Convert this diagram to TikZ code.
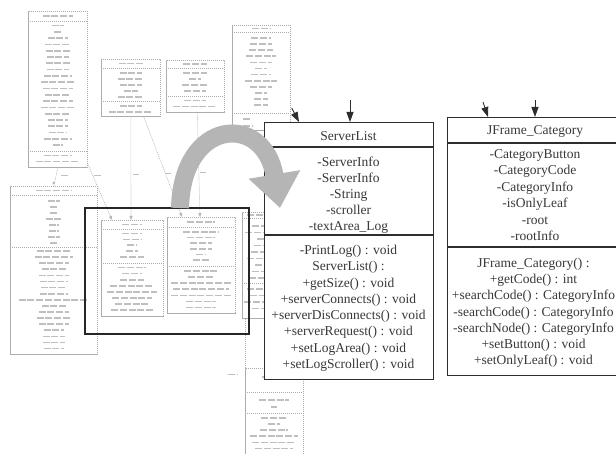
\documentclass[tikz,border=0pt]{standalone}
\usepackage{fontspec}
\setmainfont{Liberation Serif}
\usetikzlibrary{arrows.meta,calc}
\tikzset{
 smallbox/.style={draw=gray!65, dash pattern=on 1.2pt off 0.8pt, line width=0.7pt, fill=white, inner sep=0pt, anchor=north west},
 sline/.style={draw=gray!65, dash pattern=on 1.2pt off 0.8pt, line width=0.7pt},
 fake/.style={draw=gray!50, line width=1.7pt, dash pattern=on 7pt off 1.8pt},
 conn/.style={draw=gray!60, dash pattern=on 1pt off 1pt, line width=0.6pt},
 smallarrow/.style={conn, -{Triangle[width=3pt,length=4pt]}},
 bigbox/.style={draw=gray!35!black, line width=1.1pt, fill=white, inner sep=0pt, anchor=north west},
 bline/.style={draw=gray!35!black, line width=1.1pt},
 hlframe/.style={draw=gray!30!black, line width=2.4pt, inner sep=0pt, anchor=north west},
 stub/.style={draw=gray!35!black, line width=0.9pt, -{Triangle[width=7pt,length=10pt]}},
 arcarrow/.style={draw=gray!58, line width=18pt, -{Triangle[width=50pt,length=34pt]}},
 umltext/.style={anchor=base, font=\fontsize{13.5}{16}\selectfont, text=black!78, inner sep=0pt}
}
\newcommand\fklines[4]{\foreach \w [count=\i] in {#4} {\draw[fake] ({#1-\w/2},{#2+(\i-1)*#3}) -- ++(\w,0);}}
\begin{document}
\begin{tikzpicture}[x=1pt,y=-1pt]
\useasboundingbox (0,0) rectangle (616,454);
\clip (0,0) rectangle (616,454);

% ---- background class boxes ----
% Box A
\node[smallbox, minimum width=59pt, minimum height=156pt] (boxA) at (28,11) {};
\draw[sline] (28,21) -- (87,21) (28,151) -- (87,151);
\fklines{57.5}{16}{0}{30}
\fklines{57.5}{25.5}{6.3}{12,8,20,26,24,22,24,22,28,34,30,26,30,34,26,20,20,18,28,10}
\fklines{57.5}{155.5}{6}{28,44}
% Box B
\node[smallbox, minimum width=87pt, minimum height=168pt] (boxB) at (10,186) {};
\draw[sline] (10,195) -- (97,195) (10,247) -- (97,247);
\fklines{53.5}{190.5}{0}{36}
\fklines{53.5}{201}{6}{12,8,8,16,10,10,12,8}
\fklines{53.5}{251}{6.1}{34,38,30,24,30,28,26,28,70,24,30,34,30,20,22,22,20}
% Box C
\node[smallbox, minimum width=59pt, minimum height=57pt] (boxC) at (101,59) {};
\draw[sline] (101,68) -- (160,68) (101,101) -- (160,101);
\fklines{130.5}{63.5}{0}{24}
\fklines{130.5}{73}{6}{22,26,22,14,26}
\fklines{130.5}{106}{6}{22,44}
% Box D
\node[smallbox, minimum width=58pt, minimum height=52pt] (boxD) at (166,60) {};
\draw[sline] (166,68.5) -- (224,68.5) (166,96) -- (224,96);
\fklines{195}{64}{0}{24}
\fklines{195}{73}{6}{24,12,26,22}
\fklines{195}{100.5}{6}{22,44}
% Box E
\node[smallbox, minimum width=58pt, minimum height=105pt] (boxE) at (232,25) {};
\draw[sline] (232,32) -- (290,32) (232,113) -- (290,113);
\fklines{261}{28.5}{0}{18}
\fklines{261}{38}{6.1}{20,22,24,30,22,12,20,32,22,12,14,14}
\draw[fake] (243,119) -- (250,119) (234,126) -- (252,126);
% Box F
\node[smallbox, minimum width=70pt, minimum height=106pt] (boxF) at (242,212) {};
\draw[sline] (242,218) -- (312,218) (242,283) -- (312,283);
\fklines{277}{215}{0}{60}
\fklines{277}{226}{6.5}{50,64,40,46,52,60,44,50,56}
\fklines{277}{289}{6.5}{60,54,66,50}
% Box G
\node[smallbox, minimum width=62pt, minimum height=96pt] (boxG) at (101,220) {};
\draw[sline] (101,229) -- (163,229) (101,263) -- (163,263);
\fklines{132}{224.5}{0}{20}
\fklines{132}{233.5}{5.9}{20,18,10,12,24}
\fklines{132}{267.5}{6.1}{28,20,24,44,50,40,34,42}
% Box H
\node[smallbox, minimum width=68pt, minimum height=96pt] (boxH) at (167,217) {};
\draw[sline] (167,227) -- (235,227) (167,266) -- (235,266);
\fklines{201}{222}{0}{28}
\fklines{201}{232}{5.6}{36,28,22,22,10,16}
\fklines{201}{271}{6.1}{34,26,60,56,60,30,30}
% Box I
\node[smallbox, minimum width=58pt, minimum height=100pt] (boxI) at (245,368) {};
\draw[sline] (245,392) -- (303,392) (245,413) -- (303,413);
\fklines{274}{377}{0}{24}
\fklines{274}{400}{7}{30,6}
\fklines{274}{418}{6.1}{26,12,28,48,44,38,48}

% ---- background connectors ----
\draw[conn] (boxA.south) -- (boxB.north);
\fill[gray!60] ($(boxB.north)+(0,-3)$) circle (1.4pt);
\draw[fake,line width=1pt] (61,176) -- ++(8,0);
\draw[smallarrow] ($(boxA.south east)+(0,-4)$) -- ($(boxG.north west)+(11,0)$);
\draw[fake,line width=1pt] (94,176) -- ++(8,0);
\draw[smallarrow] (boxC.south) -- ($(boxG.north west)+(30,0)$);
\draw[fake,line width=1pt] (133,175) -- ++(6,0);
\draw[smallarrow] ($(boxC.south east)+(-17,0)$) -- ($(boxH.north west)+(15,0)$);
\draw[fake,line width=1pt] (165,174) -- ++(6,0);
\draw[smallarrow] ($(boxD.south)+(2,0)$) -- ($(boxH.north west)+(33,0)$);
\draw[fake,line width=1pt] (200,173) -- ++(6,0);
\draw[conn] ($(boxF.south west)+(3,0)$) -- (boxI.north west);
\draw[fake,line width=1pt] (228,375) -- ++(10,0);

% ---- highlight frame ----
\node[hlframe, minimum width=164pt, minimum height=126pt] (frame) at (84,207) {};

% ---- ServerList ----
\node[bigbox, minimum width=169pt, minimum height=257pt] (sl) at (264,122) {};
\draw[bline] (264,147) -- (433,147) (264,235) -- (433,235);
\node[umltext] (slT) at (348.5,140.5) {ServerList};
\foreach \t [count=\i] in {{-ServerInfo},{-ServerInfo},{-String},{-scroller},{-textArea\_Log}}
  \node[umltext] (slA\i) at (348.5,{166.5+(\i-1)*16}) {\t};
\foreach \t [count=\i] in {{-PrintLog() : void},{ServerList() :},{+getSize() : void},{+serverConnects() : void},{+serverDisConnects() : void},{+serverRequest() : void},{+setLogArea() : void},{+setLogScroller() : void}}
  \node[umltext] (slM\i) at (348.5,{254.5+(\i-1)*16.3}) {\t};

% ---- JFrame_Category ----
\node[bigbox, minimum width=180pt, minimum height=258pt] (cat) at (447,117) {};
\draw[bline] (447,143) -- (627,143) (447,247) -- (627,247);
\node[umltext] (catT) at (535,134.5) {JFrame\_Category};
\foreach \t [count=\i] in {{-CategoryButton},{-CategoryCode},{-CategoryInfo},{-isOnlyLeaf},{-root},{-rootInfo}}
  \node[umltext] (catA\i) at (535,{158.5+(\i-1)*16.5}) {\t};
\foreach \t [count=\i] in {{JFrame\_Category() :},{+getCode() : int},{+searchCode() : CategoryInfo},{-searchCode() : CategoryInfo},{-searchNode() : CategoryInfo},{+setButton() : void},{+setOnlyLeaf() : void}}
  \node[umltext] (catM\i) at (533.5,{267.5+(\i-1)*16.2}) {\t};

% ---- incoming stub arrows ----
\draw[stub] ($(boxE.north east)+(1,83)$) -- ($(sl.north west)+(35,0)$);
\coordinate (e2) at (350,100);
\draw[stub] (e2) -- ($(sl.north west)+(86,0)$);
\coordinate (c1) at (483,102);
\draw[stub] (c1) -- ($(cat.north west)+(41,0)$);
\coordinate (c2) at (535,100);
\draw[stub] (c2) -- ($(cat.north west)+(88,0)$);

% ---- big curved arrow ----
\coordinate (arcS) at (180,208);
\coordinate (arcE) at (280,208);
\draw[arcarrow] (arcS) .. controls (182,118) and (264,112) .. (arcE);
\end{tikzpicture}
\end{document}
